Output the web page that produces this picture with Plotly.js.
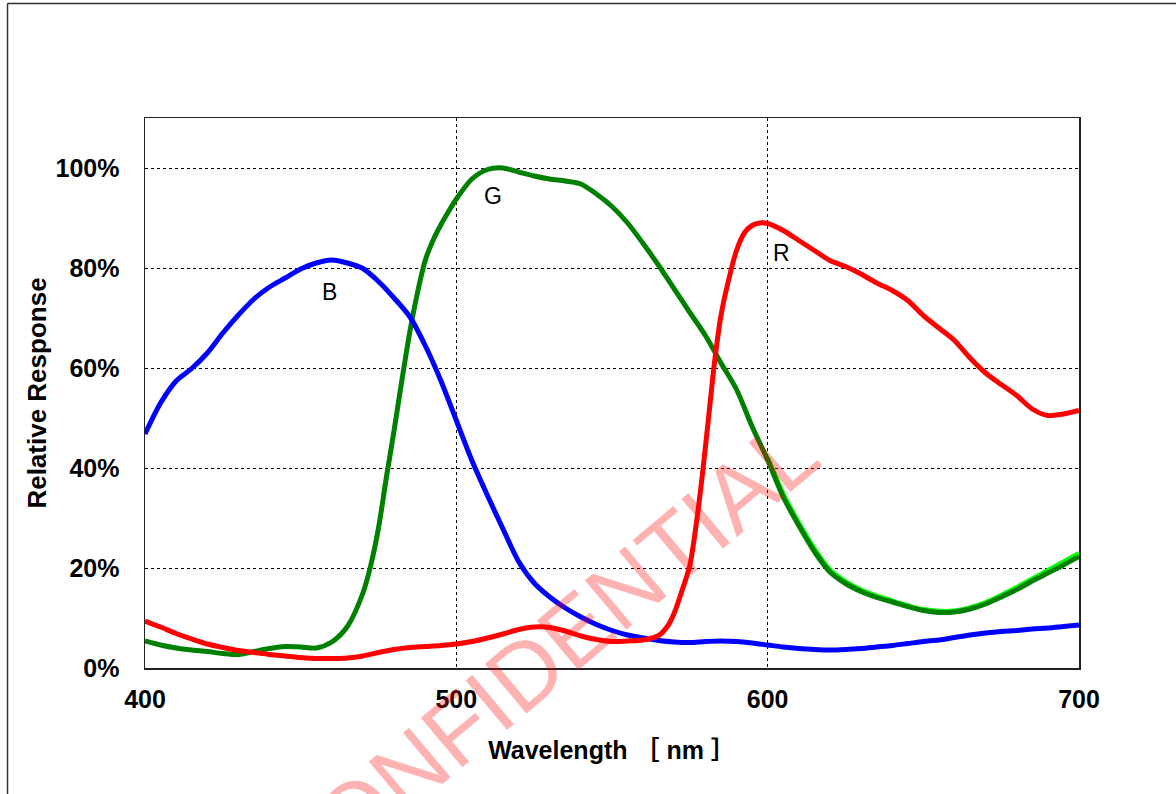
<!DOCTYPE html>
<html>
<head>
<meta charset="utf-8">
<script src="https://cdn.plot.ly/plotly-3.0.1.min.js"></script>
<style>html,body{margin:0;padding:0;background:#fff;}#chart{width:1176px;height:794px;}</style>
</head>
<body>
<div id="chart"></div>
<script>
// ---- data ----
const blueX = [400,405,410,415,420,425,430,435,440,445,450,455,460,465,470,475,480,485,490,495,500,505,510,515,520,525,530,535,540,545,550,555,560,565,570,575,580,585,590,595,600,605,610,615,620,625,630,635,640,645,650,655,660,665,670,675,680,685,690,695,700];
const blueY = [46.8,53.0,57.4,59.9,63.0,67.0,70.6,73.8,76.2,78.0,79.8,81.0,81.6,81.0,79.9,77.3,74.0,70.3,64.5,57.5,49.5,41.5,34.5,27.8,21.3,17.0,14.2,12.0,10.2,8.7,7.5,6.6,6.0,5.5,5.2,5.1,5.3,5.4,5.3,5.0,4.6,4.2,3.9,3.7,3.6,3.7,3.9,4.2,4.5,4.9,5.3,5.6,6.1,6.6,7.0,7.3,7.5,7.8,8.0,8.3,8.6];

const greenX = [400,405,410,415,420,425,430,435,440,445,450,455,460,465,470,472.5,475,477.5,480,482.5,485,487.5,490,492.5,495,497.5,500,505,510,515,520,525,530,535,540,545,550,555,560,565,570,575,580,585,590,595,600,605,610,615,620,625,630,635,640,645,650,655,660,665,670,675,680,685,690,695,700];
const greenY = [5.4,4.6,4.0,3.6,3.3,2.9,2.7,3.3,3.9,4.3,4.2,4.0,5.2,8.3,15.0,20.5,28.0,38.0,47.5,57.5,67.0,75.0,81.5,85.5,88.6,91.3,93.8,97.8,99.7,100.0,99.2,98.4,97.8,97.4,96.8,94.8,92.3,89.0,84.9,80.5,75.8,71.1,66.5,61.0,55.7,48.3,41.6,34.2,28.5,23.3,19.2,16.9,15.3,14.1,13.2,12.3,11.5,11.1,11.2,11.8,12.8,14.2,15.7,17.4,19.0,20.6,22.3];

const limeX = [600,605,610,615,620,625,630,640,650,660,670,680,690,700];
const limeY = [42.0,34.8,29.0,23.8,19.6,17.3,15.6,13.4,11.7,11.4,13.1,16.1,19.5,22.9];

const redX = [400,405,410,415,420,425,430,435,440,445,450,455,460,465,470,475,480,485,490,495,500,505,510,515,520,525,530,535,540,545,550,555,560,565,568,570,572.5,575,577,579,581,583,585,588,590,592.5,595,597.5,600,605,610,615,620,625,630,635,640,645,650,655,660,665,670,675,680,685,690,695,700];
const redY = [9.4,8.2,6.9,5.8,4.8,4.1,3.5,3.1,2.7,2.4,2.1,1.9,1.9,2.0,2.4,3.1,3.7,4.1,4.3,4.5,4.8,5.3,6.0,6.8,7.7,8.2,8.1,7.4,6.4,5.7,5.3,5.4,5.6,6.5,8.5,11.0,15.5,20.5,28.5,38.5,50.0,61.5,70.5,79.0,83.5,87.0,88.5,89.0,88.9,87.5,85.5,83.5,81.5,80.3,78.8,77.0,75.5,73.5,70.5,68.0,65.5,62.0,59.0,56.7,54.5,51.8,50.5,50.8,51.5];

const xTicks = [400,500,600,700];
const yTicks = [0,20,40,60,80,100];
const yTickLabels = ['0%','20%','40%','60%','80%','100%'];
const seriesLabels = [
  {name:'B', x:459.1, y:75.3},
  {name:'G', x:511.8, y:94.4},
  {name:'R', x:604.3, y:83.0}
];

// ---- chart ----
const lw = 5;
const traces = [
  {x:limeX, y:limeY, mode:'lines', line:{color:'#00FF00', width:lw, shape:'spline', smoothing:0.8}, hoverinfo:'skip', showlegend:false},
  {x:greenX, y:greenY, mode:'lines', name:'G', line:{color:'#008000', width:lw, shape:'spline', smoothing:0.8}},
  {x:blueX, y:blueY, mode:'lines', name:'B', line:{color:'#0000FF', width:lw, shape:'spline', smoothing:0.8}},
  {x:redX, y:redY, mode:'lines', name:'R', line:{color:'#FF0000', width:lw, shape:'spline', smoothing:0.8}}
];

const tickFont = {family:'"Liberation Sans", Arial, sans-serif', size:25, color:'#000', weight:'bold'};

const annotations = seriesLabels.map(s => ({
  x:s.x, y:s.y, xref:'x', yref:'y', text:s.name, showarrow:false,
  font:{family:'"Liberation Sans", Arial, sans-serif', size:23, color:'#000'}
}));
annotations.push({
  xref:'paper', yref:'paper', x:0.422, y:0.014, xanchor:'center', yanchor:'middle',
  text:'CONFIDENTIAL', showarrow:false,
  textangle:-40, font:{family:'"Liberation Sans", Arial, sans-serif', size:94, color:'rgba(255,0,0,0.3)'}
});

const layout = {
  width:1176, height:794,
  margin:{l:145, r:97, t:118, b:126, pad:0},
  paper_bgcolor:'#fff', plot_bgcolor:'#fff',
  showlegend:false,
  xaxis:{
    range:[400,700], tickvals:xTicks, ticktext:xTicks.map(String),
    showgrid:true, gridcolor:'#000', gridwidth:1, griddash:'dot',
    zeroline:false, showline:true, linecolor:'#222', linewidth:1.5, mirror:true,
    ticks:'', ticklabelstandoff:8, tickfont:tickFont,
    title:{text:'Wavelength ［ nm ］', standoff:30, font:{family:'"Liberation Sans", Arial, "Noto Sans CJK JP", sans-serif', size:25, color:'#000', weight:'bold'}}
  },
  yaxis:{
    range:[0,110], tickvals:yTicks, ticktext:yTickLabels,
    showgrid:true, gridcolor:'#000', gridwidth:1, griddash:'dot',
    zeroline:false, showline:true, linecolor:'#222', linewidth:1.5, mirror:true,
    ticks:'', ticklabelstandoff:19, tickfont:tickFont,
    title:{text:'Relative Response', standoff:1, font:{family:'"Liberation Sans", Arial, sans-serif', size:26, color:'#000', weight:'bold'}}
  },
  annotations:annotations,
  shapes:[
    {type:'line', xref:'paper', yref:'paper', x0:-0.1472, x1:1.11, y0:1.2082, y1:1.2082, line:{color:'#333', width:1.5}},
    {type:'line', xref:'paper', yref:'paper', x0:-0.1472, x1:-0.1472, y0:1.2082, y1:-0.24, line:{color:'#333', width:1.5}}
  ]
};

Plotly.newPlot('chart', traces, layout, {displayModeBar:false, staticPlot:true});
</script>
</body>
</html>
